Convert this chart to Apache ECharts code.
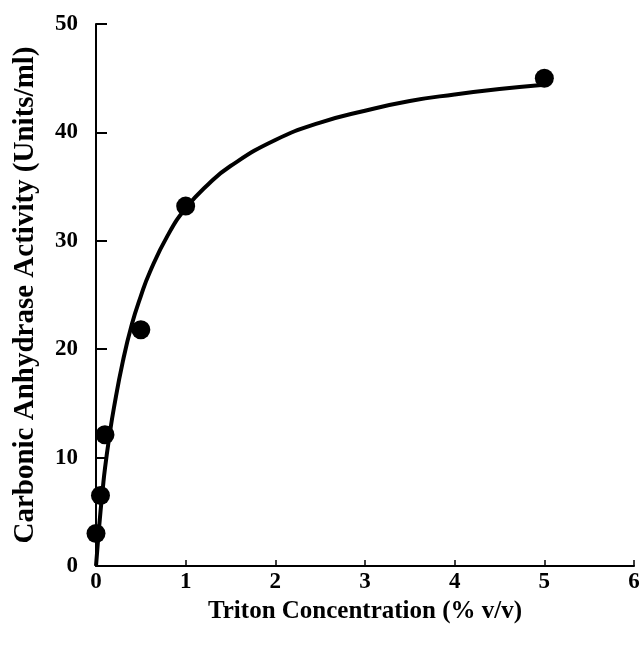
<!DOCTYPE html>
<html>
<head>
<meta charset="utf-8">
<script src="https://cdn.jsdelivr.net/npm/echarts@6/dist/echarts.min.js"></script>
<style>
  html, body { margin: 0; padding: 0; background: #fff; }
  #chart { width: 644px; height: 650px; }
</style>
</head>
<body>
<div id="chart"></div>
<script>
// measured points
var tritonX = [0, 0.05, 0.1, 0.5, 1, 5];
var activityY = [3.0, 6.5, 12.1, 21.8, 33.2, 45.0];

// fitted curve
var curveX = [0, 0.025, 0.05, 0.075, 0.1, 0.15, 0.2, 0.3, 0.4, 0.5, 0.6, 0.8, 1, 1.25, 1.5, 2, 2.5, 3, 3.5, 4, 4.5, 5];
var curveY = [0, 2.6, 5.0, 7.1, 9.0, 12.0, 14.6, 18.9, 22.3, 24.9, 27.1, 30.5, 33.0, 35.2, 36.9, 39.3, 40.9, 42.0, 42.9, 43.5, 44.0, 44.4];

var xTicks = [0, 1, 2, 3, 4, 5, 6];
var yTicks = [0, 10, 20, 30, 40, 50];

var font = 'Liberation Serif';

var pts = tritonX.map(function (x, i) { return [x, activityY[i]]; });
var curve = curveX.map(function (x, i) { return [x, curveY[i]]; });

var myChart = echarts.init(document.getElementById('chart'));
var option = {
  backgroundColor: '#fff',
  animation: false,
  grid: { left: 96, right: 10, top: 24, bottom: 84 },
  xAxis: {
    type: 'value',
    min: xTicks[0],
    max: xTicks[xTicks.length - 1],
    interval: 1,
    name: 'Triton Concentration (% v/v)',
    nameLocation: 'middle',
    nameGap: 28,
    nameTextStyle: { fontFamily: font, fontWeight: 'bold', fontSize: 25, color: '#000' },
    axisLine: { lineStyle: { color: '#000', width: 2 } },
    axisTick: { inside: true, length: 6, lineStyle: { color: '#000', width: 1.5 } },
    axisLabel: { margin: 5, fontFamily: font, fontWeight: 'bold', fontSize: 23, color: '#000' },
    splitLine: { show: false }
  },
  yAxis: {
    type: 'value',
    min: yTicks[0],
    max: yTicks[yTicks.length - 1],
    interval: 10,
    name: 'Carbonic Anhydrase Activity (Units/ml)',
    nameLocation: 'middle',
    nameGap: 56,
    nameTextStyle: { fontFamily: font, fontWeight: 'bold', fontSize: 29, color: '#000' },
    axisLine: { show: true, lineStyle: { color: '#000', width: 2 } },
    axisTick: { show: true, inside: true, length: 11, lineStyle: { color: '#000', width: 2 } },
    axisLabel: { margin: 18, fontFamily: font, fontWeight: 'bold', fontSize: 23, color: '#000' },
    splitLine: { show: false }
  },
  series: [
    {
      type: 'line',
      data: curve,
      smooth: true,
      showSymbol: false,
      lineStyle: { color: '#000', width: 4 },
      z: 2
    },
    {
      type: 'scatter',
      data: pts,
      symbol: 'circle',
      symbolSize: 19,
      itemStyle: { color: '#000', opacity: 1 },
      z: 3
    }
  ]
};
myChart.setOption(option);
</script>
</body>
</html>
